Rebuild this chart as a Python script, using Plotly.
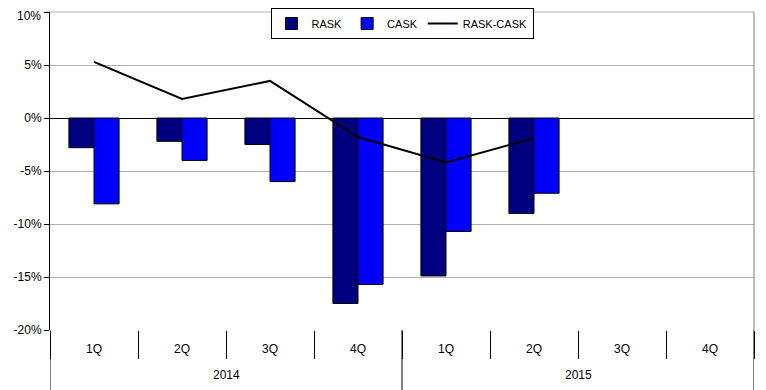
import plotly.graph_objects as go

years = ["2014", "2015"]
quarters = ["1Q", "2Q", "3Q", "4Q", "1Q", "2Q", "3Q", "4Q"]
rask = [-2.8, -2.2, -2.5, -17.5, -14.9, -9.0, None, None]
cask = [-8.1, -4.0, -6.0, -15.7, -10.7, -7.1, None, None]
spread = [5.3, 1.8, 3.5, -1.8, -4.2, -1.9, None, None]
y_ticks = [-20, -15, -10, -5, 0, 5, 10]
y_ticktext = [f"{v}%" for v in y_ticks]

cats = [f"{years[i // 4]} {q}" for i, q in enumerate(quarters)]
font = dict(family="Liberation Sans, Arial", size=12, color="black")

fig = go.Figure()
fig.add_trace(go.Bar(x=cats, y=rask, name="RASK", marker=dict(color="#000080", line=dict(color="black", width=1))))
fig.add_trace(go.Bar(x=cats, y=cask, name="CASK", marker=dict(color="#0000FF", line=dict(color="black", width=1))))
fig.add_trace(go.Scatter(x=cats, y=spread, name="RASK-CASK", mode="lines",
                         line=dict(color="black", width=2), connectgaps=False))

# page body has an 8px margin, so the figure is offset by 8px
W, H = 758, 382
ml, mr, mt, mb = 42, 12, 4, 60
plot_h = H - mt - mb
plot_w = W - ml - mr
# top tick label would be clipped at the figure edge: draw it as an annotation instead
shown_text = y_ticktext[:-1] + [""]
fig.update_layout(
    width=W, height=H,
    margin=dict(l=ml, r=mr, t=mt, b=mb, autoexpand=False),
    paper_bgcolor="white", plot_bgcolor="white",
    font=font,
    barmode="group", bargap=0.43, bargroupgap=0,
    legend=dict(orientation="h", x=0.5, xanchor="center", y=1 + mt / plot_h, yanchor="top",
                bgcolor="white", bordercolor="black", borderwidth=1,
                font=dict(size=11), itemwidth=30, tracegroupgap=0),
    xaxis=dict(type="category", showticklabels=False, showline=False, ticks="outside",
               tickson="boundaries", ticklen=28, tickcolor="black", showgrid=False,
               range=[-0.5, 7.5]),
    yaxis=dict(range=[-20, 10], tickmode="array", tickvals=y_ticks, ticktext=shown_text,
               showgrid=True, gridcolor="#b0b0b0",
               gridwidth=1, zeroline=True, zerolinecolor="black", zerolinewidth=1,
               showline=True, linecolor="black", linewidth=1, ticks="outside", ticklen=5,
               tickcolor="black"),
)
fig.add_annotation(x=-8 / plot_w, xref="paper", xanchor="right", y=1 + mt / plot_h, yref="paper",
                   yanchor="top", text=y_ticktext[-1], showarrow=False, font=dict(size=12),
                   borderpad=0)
for i, q in enumerate(quarters):
    fig.add_annotation(x=i, y=-19 / plot_h, xref="x", yref="paper", text=q, showarrow=False,
                       yanchor="middle", font=dict(size=12))
for j, yr in enumerate(years):
    fig.add_annotation(x=j * 4 + 1.5, y=-45 / plot_h, xref="x", yref="paper", text=yr,
                       showarrow=False, yanchor="middle", font=dict(size=12))
for xb in [-0.5, 3.5, 7.5]:
    fig.add_shape(type="line", xref="x", yref="paper", x0=xb, x1=xb, y0=0, y1=-mb / plot_h,
                  line=dict(color="black", width=1))
fig.add_shape(type="line", xref="paper", yref="paper", x0=1, x1=1, y0=0, y1=1,
              line=dict(color="#808080", width=1))
fig.add_shape(type="line", xref="paper", yref="paper", x0=-5 / plot_w, x1=1, y0=1, y1=1,
              line=dict(color="#b0b0b0", width=1), layer="below")
fig.write_html("out.html")
